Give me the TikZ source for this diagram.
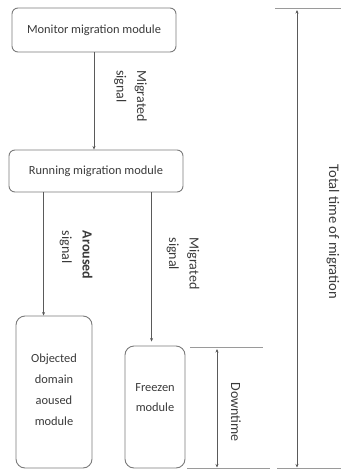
\documentclass[tikz,border=0pt]{standalone}
\usepackage{fontspec}
\setmainfont{Carlito}
\usetikzlibrary{arrows.meta}
\definecolor{boxline}{HTML}{7A7A7A}
\definecolor{connline}{HTML}{5A5A5A}
\definecolor{tickline}{HTML}{9A9A9A}
\definecolor{txt}{HTML}{3A3A3A}
\begin{document}
\begin{tikzpicture}[x=1pt,y=-1pt,
  modbox/.style={draw=boxline,line width=0.9pt,rounded corners=6pt,align=center,
    text=txt,font=\fontsize{12.4}{21}\selectfont,inner sep=0pt},
  tallbox/.style={modbox,rounded corners=9pt},
  conn/.style={draw=connline,line width=0.8pt,-{Stealth[length=3.5pt,width=3pt]}},
  dim/.style={draw=connline,line width=0.8pt,{Stealth[length=3.5pt,width=3pt]}-{Stealth[length=3.5pt,width=3pt]}},
  tick/.style={draw=tickline,line width=1pt},
  vlabel/.style={rotate=-90,align=left,text=txt,font=\fontsize{14}{20.5}\selectfont,inner sep=0pt}]
\useasboundingbox (0,0) rectangle (341,469);

% modules
\node[modbox,minimum width=164pt,minimum height=44pt] (mon) at (94,30) {Monitor migration module};
\node[modbox,minimum width=174pt,minimum height=42pt] (run) at (96,171) {Running migration module};
\node[tallbox,minimum width=76pt,minimum height=152pt] (obj) at (54,392) {};
\node[txt,align=center,font=\fontsize{12.4}{21}\selectfont] (objtext) at (54,390) {Objected\\domain\\aoused\\module};
\node[tallbox,minimum width=60pt,minimum height=122pt] (frz) at (155,407) {};
\node[txt,align=center,font=\fontsize{12.4}{20}\selectfont] (frztext) at (155,398) {Freezen\\module};

% signals between modules
\draw[conn] (mon.south) -- (mon.south |- run.north);
\draw[conn] ([xshift=35pt]run.south west) -- ([xshift=35pt]run.south west |- obj.north);
\draw[conn,shorten >=4pt] ([xshift=143pt]run.south west) -- ([xshift=143pt]run.south west |- frz.north);

\node[vlabel] (sig1) at (130.5,96) {Migrated\\signal};
\node[vlabel] (sig2) at (76,255) {\textbf{Aroused}\\signal};
\node[vlabel] (sig3) at (183,263.5) {Migrated\\signal};

% downtime dimension
\coordinate (dtA) at (190,347);
\coordinate (dtB) at (263,347);
\coordinate (dtC) at (187,468.5);
\coordinate (dtD) at (270,468.5);
\draw[tick] (dtA) -- (dtB);
\draw[tick] (dtC) -- (dtD);
\coordinate (dtTop) at (217,349);
\coordinate (dtBot) at (217,467.5);
\draw[dim] (dtTop) -- (dtBot);
\node[vlabel,font=\fontsize{14}{20}\selectfont] (dtlabel) at (236,412) {Downtime};

% total migration time dimension
\coordinate (ttA) at (275,8);
\coordinate (ttB) at (341,8);
\coordinate (ttC) at (277,468.5);
\coordinate (ttD) at (341,468.5);
\draw[tick] (ttA) -- (ttB);
\draw[tick] (ttC) -- (ttD);
\coordinate (ttTop) at (297,10);
\coordinate (ttBot) at (297,467.5);
\draw[dim] (ttTop) -- (ttBot);
\node[vlabel,font=\fontsize{14.6}{20}\selectfont] (ttlabel) at (333,232) {Total time of migration};
\end{tikzpicture}
\end{document}
